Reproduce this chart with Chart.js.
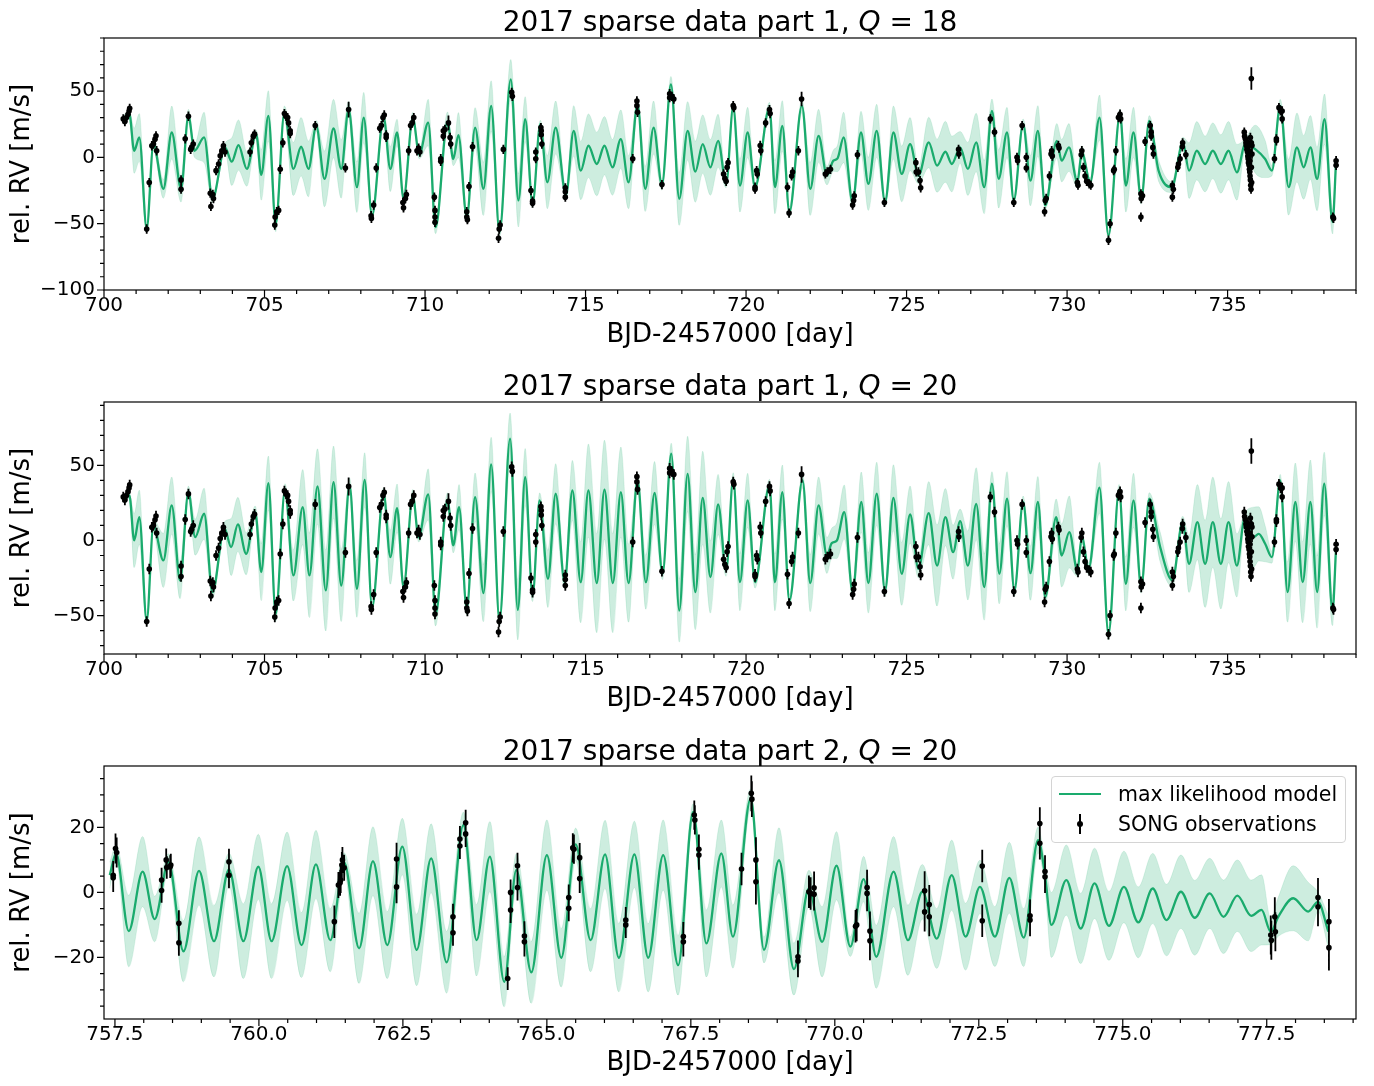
<!DOCTYPE html>
<html><head><meta charset="utf-8">
<script src="https://cdn.jsdelivr.net/npm/chart.js@4.4.1/dist/chart.umd.min.js"></script>
<style>
html,body{margin:0;padding:0;background:#fff;width:1374px;height:1086px;overflow:hidden;position:relative;}
canvas{position:absolute;left:0;}
#legend{position:absolute;left:1051px;top:776px;width:295px;height:67px;box-sizing:border-box;border:1px solid #d4d4d4;border-radius:4px;background:rgba(255,255,255,0.85);font-family:"DejaVu Sans",sans-serif;font-size:20.5px;color:#000;}
#legend .txt{position:absolute;left:66px;line-height:24px;white-space:nowrap;}
#legend .swline{position:absolute;left:7px;top:16px;width:42px;height:2.2px;background:#1aab6d;}
#legend .swbar{position:absolute;left:27px;top:37px;width:2px;height:20px;background:#000;}
#legend .swdot{position:absolute;left:25px;top:44px;width:6px;height:6px;border-radius:50%;background:#000;}
</style></head><body>
<canvas id="c1" width="1374" height="364" style="top:0px"></canvas>
<canvas id="c2" width="1374" height="364" style="top:364px"></canvas>
<canvas id="c3" width="1374" height="364" style="top:728px"></canvas>
<div id="legend">
  <span class="swline"></span><span class="txt" style="top:5px">max likelihood model</span>
  <span class="swbar"></span><span class="swdot"></span><span class="txt" style="top:35px">SONG observations</span>
</div>
<script>
// ---------------- DATA ----------------
// Tick labels
const xTicksPart1 = [700, 705, 710, 715, 720, 725, 730, 735];
const yTicksQ18 = [-100, -50, 0, 50];
const yTicksQ20 = [-50, 0, 50];
const xTicksPart2 = [757.5, 760, 762.5, 765, 767.5, 770, 772.5, 775, 777.5];
const yTicksPart2 = [-20, 0, 20];

// Panel 1 model (Q=18): x [day], y [m/s], band half-width [m/s]
const q18X = [700.60,700.79,700.94,701.10,701.33,701.54,701.85,702.11,702.40,702.63,
702.82,703.12,703.38,703.77,703.98,704.19,704.45,704.74,704.90,705.12,
705.35,705.62,705.90,706.14,706.37,706.61,706.87,707.15,707.39,707.62,
707.88,708.09,708.35,708.71,708.92,709.13,709.33,709.62,709.82,
710.10,710.33,710.70,710.88,711.04,711.30,711.56,711.82,712.06,712.32,
712.67,712.91,713.12,713.35,713.59,713.81,714.07,714.39,714.63,714.85,
715.09,715.35,715.59,715.84,716.10,716.34,716.62,716.86,717.12,717.38,
717.66,717.92,718.18,718.42,718.65,718.89,719.13,719.38,719.60,
719.81,720.05,720.28,720.73,720.90,721.13,721.35,721.74,722.00,722.26,
722.52,722.72,722.85,723.04,723.32,723.58,723.81,724.07,724.33,724.59,
724.85,725.11,725.37,725.69,725.95,726.21,726.41,726.67,726.91,727.17,
727.42,727.66,727.87,728.13,728.34,728.63,728.86,729.09,729.32,
729.68,729.83,730.06,730.32,730.46,730.72,731.01,731.29,731.65,731.83,
732.07,732.31,732.56,732.85,733.26,733.61,733.80,734.04,734.30,734.54,
734.79,735.03,735.29,735.55,735.86,736.17,736.38,736.64,736.90,737.16,
737.37,737.58,737.79,738.02,738.27,738.38];
const q18Y = [28.3,32.5,5,15,-53.75,10,-23.75,18.75,-23.75,31.25,
5,15,-31.25,7.5,-3.25,9.25,-8.75,17.5,-13.25,31.25,
-50,33.75,-8.75,8,-8.75,23.75,-16.25,21.75,-8.75,36.25,
-22.5,30,-43.75,30,-8.75,18.75,-31.25,30,2,
26.25,-52.5,26.75,-1.25,16.75,-45,22.5,-23.75,38.75,-56.25,
58.75,-32.5,28.75,-35,25,-18.75,22.5,-28.25,20,-10,
8.75,-5,8.75,-7.5,13.75,-18.75,40,-23.75,22.5,-20.75,
55,-31.25,20,-10.75,10,-7.5,12.5,-20,38,
-21.25,18.75,-22.5,37.5,-22.5,23.75,-41.25,38.75,-23.75,16.25,
-13.75,-2.5,-0.75,15,-33.75,18.75,-20,20,-33.75,18.75,
-12.5,10,-13.75,11.25,-6.25,4.25,-5,7.5,-8.75,11.25,
-22.5,35,-16.25,18.75,-32.5,25,-17.5,20,-36.25,
12.5,-2.5,7.5,-18.75,3.75,-18.75,30,-58.75,32.5,-21.25,
18.75,-31.25,27.5,-10,-22.5,11.25,-10,5,-5,5,
-5,5,-11.25,10,6.25,-1.25,-10,38.75,-22.5,7.5,
-7.5,7.5,-16.25,28.75,-48.75,-2.5];
const q18Band = [3,3,17,18,3,5,7,20,10,5,
5,19,3,3,18,19,13,3,19,19,
6,5,20,22,21,4,21,22,22,6,
19,19,3,4,17,10,3,4,3,
17.5,5,7.5,5,17,3,15,20,19,4,
15,20,17,3,3,20,20,3,19,22,
24,24,22,21,22,20,5,17,20,4,
6,20,22,23,22,21,20,3,4,
20,19,3,4,20,19,4,5,20,20,
7,8,10,19,4,16,20,20,3,20,
21,20,6,19,20,23,21,12,20,22,
20,9,22,19,3,4,19,19,3,
13,16,18,4,5,3,17,3,4,20,
19,4,4,8,4,4,21,22,21,21,
22,22,21,4,18,14,4,5,21,26,
24,24,24,19,9,3];

// Panel 2 model (Q=20)
const q20X = [700.60,700.79,700.94,701.10,701.33,701.54,701.85,702.11,702.37,702.63,
702.84,703.12,703.38,703.75,703.96,704.17,704.43,704.71,704.90,705.12,
705.35,705.64,705.90,706.19,706.40,706.65,706.91,707.15,707.39,707.65,
707.88,708.12,708.35,708.71,708.92,709.13,709.33,709.62,709.80,
710.10,710.33,710.70,710.88,711.06,711.30,711.56,711.82,712.06,712.32,
712.65,712.89,713.12,713.35,713.57,713.83,714.07,714.35,714.59,714.85,
715.09,715.35,715.59,715.85,716.10,716.34,716.62,716.88,717.15,717.40,
717.67,717.92,718.18,718.42,718.65,718.89,719.13,719.38,719.60,
719.81,720.05,720.28,720.73,720.90,721.13,721.35,721.76,722.00,722.26,
722.52,722.67,722.83,723.06,723.32,723.59,723.81,724.07,724.33,724.59,
724.85,725.11,725.37,725.69,725.95,726.21,726.45,726.67,726.91,727.17,
727.42,727.66,727.89,728.13,728.36,728.63,728.86,729.09,729.32,
729.66,729.83,730.07,730.32,730.46,730.67,731.01,731.29,731.62,731.83,
732.07,732.31,732.56,732.90,733.28,733.60,733.80,734.06,734.30,734.54,
734.79,735.03,735.29,735.53,735.81,735.97,736.17,736.38,736.64,736.87,
737.11,737.34,737.58,737.79,738.01,738.27,738.38];
const q20Y = [28.4,30,0,15.5,-53.3,10,-13.3,23.3,-26.7,32.2,
2.2,17.8,-34.4,8.4,-4.4,10.7,-8.9,18.9,-21.1,38.2,
-48.9,33.8,-23.3,22.2,-23.3,36,-33.3,38.9,-30,36.7,
-32.2,40.4,-44.4,31.1,-11.1,21.6,-31.1,30,2,
30.7,-48.9,26.7,-3.3,22.2,-45.6,28.9,-35.1,50.7,-53.3,
67.8,-46.2,42.2,-36.7,26.7,-25.6,31.1,-27.8,33.3,-27.8,
33.3,-28.4,33.8,-28.4,32.2,-28.4,40,-27.8,31.6,-22.2,
57.8,-46.7,44.4,-34.4,28.4,-24.4,24,-20,41.1,
-27.8,26.7,-27.8,36.7,-27.8,32.2,-40,40,-28.4,23.3,
-10,-1.8,0,18.9,-34.4,25.6,-28.4,31.1,-33.3,28.4,
-22.2,17.3,-18.9,18.2,-16.7,15.6,-7.8,12.9,-16.7,24.4,
-31.1,37.8,-22.2,27.8,-33.3,25.6,-21.8,25.6,-37.8,
15.6,-10,5.6,-20,2.2,-18.9,35.1,-62.2,33.3,-28.9,
26.7,-31.1,27.8,-4.4,-26.7,12.2,-15.6,12.2,-15.6,12.2,
-15.6,12.2,-16.7,14.4,2.2,4.4,-2.2,-11.1,40,-34.4,
25.6,-27.8,25.6,-34.4,37.8,-46.7,-4.4];
const q20Band = [2,2,18,18,3,4,18,19,12,4,
12,17,4,4,19,18,14,4,19,18,
5,4,17,25,28,25,27,24,24,5,
19,18,3,4,18,16,3,4,3,
17,8,5,5,15,4,16,19,18,4,
17,20,19,4,5,19,20,4,20,27,
31,33,33,33,30,26,5,18,21,4,
7,21,25,25,31,24,20,4,4,
19,18,4,4,19,18,4,5,19,19,
12,10,12,18,4,20,20,21,4,22,
21,19,6,21,27,19,18,8,23,24,
22,8,20,18,4,4,18,17,4,
12,21,24,4,4,4,17,4,4,18,
18,4,4,10,4,4,19,25,29,30,
30,27,21,4,20,18,12,4,4,20,
26,27,28,24,21,10,3];

// Panel 3 model (part 2, Q=20)
const p2X = [757.41,757.52,757.74,757.98,758.19,758.43,758.69,758.96,759.22,759.48,
759.73,759.99,760.22,760.49,760.74,760.99,761.24,761.48,761.74,761.98,
762.23,762.49,762.74,762.99,763.26,763.55,763.78,764.01,764.26,764.47,
764.73,765.00,765.25,765.50,765.76,766.01,766.25,766.52,766.76,767.02,
767.28,767.54,767.77,768.03,768.23,768.54,768.77,769.03,769.29,769.55,
769.78,770.03,770.27,770.50,770.72,771.02,771.27,771.52,771.77,772.03,
772.27,772.52,772.78,773.03,773.28,773.53,773.65,773.76,774.02,774.27,
774.51,774.76,775.02,775.27,775.52,775.76,776.01,776.25,776.51,776.75,
776.99,777.23,777.41,777.57,777.70,777.96,778.22,778.39,778.57];
const p2Y = [5.3,12,-11.9,6.4,-8.2,9.4,-18.1,6.6,-15,7.1,
-15,7.9,-15,8.1,-16.2,8.6,-14.7,9.2,-17.2,9.6,
-16.2,14.1,-17.7,10.5,-21.5,20.7,-14.7,11,-27.5,6.9,
-24.6,11.5,-20.1,14.8,-14.7,11.7,-20.1,11.7,-20.1,11.5,
-22.4,24.8,-15.7,12,-13.6,28.9,-17.7,9.9,-23.6,1.2,
-15.2,8.2,-16.7,4.1,-19.8,6.4,-14.7,0.2,-14.2,5.3,
-13.6,1.7,-13.6,4.5,-13.9,16.1,5.3,-10,3.8,-11.1,
2.8,-10.3,1.7,-9.2,1.2,-8.5,0.2,-7.8,-0.3,-7.5,
-1,-7.2,-5.4,-12.1,-7.5,-1.8,-5.9,-2.9,-12.1];
const p2Band = [4,2.5,11,10.8,7,2.5,9.4,10.5,11,5,
11.5,10,11.5,10.5,10,10.5,9.7,3,10.8,10.6,
10.3,8.7,11,10.6,9.5,4,11,10.8,7.7,5,
9.5,10.8,9,5,9.7,10.5,10.5,10.2,10.5,10.8,
9.2,2.5,10.3,10.3,9.7,3,4,10,8,5.6,
10.8,10.5,3,7,9.7,10.8,10.8,8.4,9.2,10.8,
10.3,8.2,9.2,10.9,8.9,4,4,10,10.8,10.8,
10.8,10.6,11,10.9,10.8,11,11.3,11.5,10.8,11.3,
11,11,10.8,4,6,10,9,3,5];

// SONG observations part 1: [BJD-2457000, RV, error]
const obsPart1 = [
[700.60,29,3.5],[700.65,27,3.5],[700.70,30,3.5],[700.75,32.5,3.5],[700.78,35,3.5],[700.80,37,3.5],
[701.33,-54,3.5],[701.41,-19,3.5],[701.49,8.75,3.5],[701.54,10,3.5],[701.59,13.75,3.5],[701.62,16.25,3.5],[701.64,5,3.5],
[702.40,-17,3.5],[702.40,-24,3.5],[702.53,14,3.5],[702.63,31,3.5],[702.70,6,3.5],[702.73,7.5,3.5],[702.78,10,3.5],
[703.31,-27,3.5],[703.33,-37,3.5],[703.39,-28,3.5],[703.41,-31,3.5],[703.49,-10,3.5],[703.57,-5,3.5],[703.62,1.25,3.5],[703.67,5,3.5],[703.72,8.75,3.5],[703.77,4,3.5],
[704.55,4,3.5],[704.59,11,3.5],[704.65,16,3.5],[704.69,17.5,3.5],
[705.32,-51,3.5],[705.33,-45,3.5],[705.38,-41,3.5],[705.44,-40,3.5],[705.49,-9,3.5],[705.57,11,3.5],
[705.62,33,3.5],[705.67,31,3.5],[705.72,30,3.5],[705.75,26,3.5],[705.80,20,3.5],[705.80,18,3.5],
[706.58,24,3.5],[707.52,-8,3.5],[707.62,36,6],
[708.32,-44,3.5],[708.33,-46,3.5],[708.40,-36,3.5],[708.48,-8,3.5],[708.59,22,3.5],[708.64,24,3.5],[708.69,30,3.5],[708.73,32,3.5],[708.79,17,3.5],[708.79,15,3.5],
[709.31,-34,3.5],[709.33,-38,3.5],[709.39,-31,3.5],[709.42,-28,3.5],[709.49,5,3.5],[709.55,24,3.5],[709.60,26,3.5],[709.65,30,3.5],[709.75,5,3.5],[709.80,7,3.5],[709.84,4,3.5],
[710.29,-30,3.5],[710.31,-40,3.5],[710.31,-45,3.5],[710.31,-49,3.5],[710.49,-1,3.5],[710.49,-3,3.5],[710.57,20,3.5],[710.57,16,3.5],[710.62,21,3.5],[710.73,26,5.5],[710.78,15,3.5],[710.80,10,3.5],
[711.30,-41,3.5],[711.30,-45,3.5],[711.32,-47,3.5],[711.37,-22,3.5],[711.48,8,3.5],
[712.29,-61,3.5],[712.31,-54,3.5],[712.34,-51,3.5],[712.44,6,3.5],[712.70,49,3.5],[712.72,46,3.5],
[713.30,-25,3.5],[713.35,-33,3.5],[713.35,-34.5,3.5],[713.45,4,3.5],[713.45,-1,3.5],[713.61,22.5,3.5],[713.62,20,3.5],[713.62,17,3.5],[713.64,10,3.5],
[714.37,-23,3.5],[714.37,-26,3.5],[714.37,-30,3.5],
[716.47,-1,3.5],[716.60,42.5,3.5],[716.60,39,3.5],[716.62,34,3.5],
[717.38,-20.5,3.5],[717.62,48,3.5],[717.62,45,3.5],[717.69,46,3.5],[717.75,44,3.5],
[719.30,-12.5,3.5],[719.34,-16,3.5],[719.38,-18,3.5],[719.41,-7.5,3.5],[719.44,-4,3.5],[719.60,39,3.5],[719.62,37.5,3.5],
[720.28,-22.5,3.5],[720.28,-24,3.5],[720.33,-10,3.5],[720.35,-12.5,3.5],[720.44,9,3.5],[720.46,5,3.5],[720.61,26,3.5],[720.73,36,3.5],[720.75,33,3.5],
[721.29,-22.5,3.5],[721.34,-42,3.5],[721.42,-14,3.5],[721.45,-11,3.5],[721.63,5,3.5],[721.73,44,5.5],
[722.47,-12.5,3.5],[722.53,-11,3.5],[722.63,-9,3.5],
[723.32,-36,3.5],[723.35,-32.5,3.5],[723.37,-29,3.5],[723.47,2,3.5],[724.31,-34,3.5],
[725.29,-4,3.5],[725.30,-11,3.5],[725.37,-11,3.5],[725.42,-17.5,3.5],[725.44,-23,3.5],
[726.62,6,3.5],[726.63,2.5,3.5],[727.61,29,3.5],[727.74,19,3.5],
[728.34,-34,3.5],[728.44,0,3.5],[728.46,-2.5,3.5],[728.60,24,3.5],[728.73,0,3.5],[728.73,-8,3.5],
[729.30,-41,3.5],[729.32,-32.5,3.5],[729.35,-31,3.5],[729.45,-14,3.5],[729.50,2.5,3.5],[729.52,5,3.5],[729.54,1,3.5],[729.73,9,3.5],[729.75,7,3.5],
[730.32,-19,3.5],[730.34,-21,3.5],[730.44,2,3.5],[730.46,5,3.5],[730.51,-7.5,3.5],[730.56,-14,3.5],[730.61,-18,3.5],[730.69,-20,3.5],[730.74,-21,3.5],
[731.29,-62.5,3.5],[731.34,-50,3.5],[731.45,-10,3.5],[731.47,-9,3.5],[731.52,5,3.5],[731.60,30,3.5],[731.63,31,3.5],[731.65,32.5,3.5],[731.67,29,3.5],
[732.30,-27.5,3.5],[732.30,-45,3.5],[732.31,-31,3.5],[732.35,-29,3.5],[732.43,12,3.5],[732.59,24,3.5],[732.62,19,3.5],[732.62,16,3.5],[732.67,7.5,3.5],[732.69,2.5,3.5],
[733.28,-21,3.5],[733.28,-30,3.5],[733.31,-24,3.5],[733.45,-7.5,3.5],[733.47,-5,3.5],[733.52,-1,3.5],[733.59,8,3.5],[733.60,11,3.5],[733.70,2,3.5],
[735.52,19,3.5],[735.53,16,3.5],[735.55,14,3.5],[735.57,11,3.5],[735.58,9,3.5],[735.60,6,3.5],[735.62,4,3.5],[735.63,1,3.5],[735.64,-1,3.5],[735.65,-4,3.5],
[735.67,-6,3.5],[735.68,-9,3.5],[735.69,-11,3.5],[735.70,-14,3.5],[735.71,-17,3.5],[735.72,-21,3.5],[735.73,-24,3.5],[735.71,15,3.5],[735.74,11,3.5],[735.76,9,3.5],
[735.65,10,3.5],[735.60,12,3.5],[735.68,5,3.5],[735.70,-2.5,3.5],[735.74,-7.5,3.5],[735.76,2.5,3.5],[735.75,-19,3.5],
[735.74,59.5,8.5],
[736.46,-1,3.5],[736.52,12.5,3.5],[736.52,14,3.5],[736.60,37.5,3.5],[736.65,35,3.5],[736.70,35,3.5],[736.70,29,3.5],
[738.28,-45,3.5],[738.30,-46,3.5],[738.38,-2.5,3.5],[738.38,-6,3.5]
];

// SONG observations part 2
const obsPart2 = [
[757.47,5.3,4.4],[757.47,4.5,4.4],[757.51,13.5,4.6],[757.53,12.3,4.6],
[758.31,3.8,3.8],[758.31,0.6,3.8],[758.39,10,3.5],[758.40,7.7,3.5],[758.46,7.9,3.5],[758.47,8.4,3.5],
[758.61,-9.5,4],[758.61,-15.5,4],[759.48,9.4,4],[759.48,5.3,4],
[761.31,-9,5],[761.38,2.3,4],[761.41,3,4],[761.42,3.8,4],[761.44,8.4,4],[761.45,10,4],[761.48,7.6,4],
[762.39,10.3,5],[762.39,1.7,5],
[763.37,-7.5,4],[763.37,-12.4,4],[763.49,16.4,4],[763.49,14.3,4],[763.59,21.4,4],[763.59,18,4],
[764.32,-26.5,3.5],[764.37,0,4],[764.37,-5.4,4],[764.49,8.2,4],[764.49,1.5,4],[764.61,-13.4,4.5],[764.61,-15.2,4.5],
[765.38,-1.6,4],[765.38,-4.9,4],[765.45,13.7,4.5],[765.47,13.3,4.5],[765.57,10.7,4.5],[765.57,4.3,4.5],
[766.37,-8.5,4],[766.37,-10,4],
[767.37,-13.6,4.5],[767.37,-15.2,4.5],[767.56,23.8,4.5],[767.57,22.3,4.5],[767.64,13.3,4.5],[767.64,11.5,4.5],
[768.38,7.2,5],[768.55,30.5,5.5],[768.56,28.7,5.5],[768.63,10,7],[768.63,3.3,7],
[769.36,-19.8,5],[769.36,-21.1,5],[769.55,0.2,5],[769.58,-0.3,5],[769.64,1.4,5],[769.64,-0.6,5],
[770.36,-10.4,5],[770.38,-10,5],[770.56,1.5,5.5],[770.56,-0.3,5.5],[770.61,-11.9,6],[770.61,-14.9,6],
[771.56,0.5,6],[771.56,-6,6],[771.64,-3.7,6],[771.64,-7.5,6],
[772.56,8.1,5],[772.56,-8.7,5],
[773.39,-7.2,5],[773.39,-8.5,5],[773.56,21.2,5],[773.56,15.1,5],[773.65,6.4,5],[773.65,4.8,5],
[777.57,-13.1,6],[777.58,-14.7,6],[777.64,-7.5,6],[777.65,-12.1,6],
[778.39,-1.6,6],[778.39,-4.4,6],[778.58,-9,7],[778.58,-17,7]
];

// ---------------- RENDERING ----------------
Chart.defaults.font.family = '"DejaVu Sans", sans-serif';
Chart.defaults.color = '#000';
const GREEN = '#1aab6d';
const BAND = 'rgba(26,171,109,0.22)';
const FONT = '"DejaVu Sans", sans-serif';

function fmtNum(v, dec) {
  const s = Math.abs(v).toFixed(dec);
  return v < 0 ? '\u2212' + s : s;
}

const titlePlugin = {
  id: 'mplTitle',
  afterDraw(chart, args, o) {
    if (!o || !o.parts) return;
    const ctx = chart.ctx, a = chart.chartArea;
    ctx.save();
    ctx.fillStyle = '#000';
    ctx.textBaseline = 'alphabetic';
    ctx.textAlign = 'left';
    let w = 0;
    const ps = o.parts.map(p => {
      ctx.font = (p.italic ? 'italic ' : '') + o.size + 'px ' + FONT;
      const m = ctx.measureText(p.t).width;
      w += m;
      return {t: p.t, italic: p.italic, w: m};
    });
    let x = (a.left + a.right) / 2 - w / 2;
    ps.forEach(p => {
      ctx.font = (p.italic ? 'italic ' : '') + o.size + 'px ' + FONT;
      ctx.fillText(p.t, x, o.y);
      x += p.w;
    });
    ctx.restore();
  }
};

const axesPlugin = {
  id: 'mplAxes',
  afterDraw(chart, args, o) {
    if (!o || !o.xMinor) return;
    const ctx = chart.ctx, a = chart.chartArea;
    const xs = chart.scales.x, ys = chart.scales.y;
    ctx.save();
    ctx.strokeStyle = '#000';
    ctx.lineWidth = 1.2;
    ctx.beginPath();
    const isMajor = (list, v) => list.some(m => Math.abs(m - v) < 1e-6);
    for (let k = Math.ceil(xs.min / o.xMinor - 1e-9); k * o.xMinor <= xs.max + 1e-9; k++) {
      const v = k * o.xMinor;
      const p = xs.getPixelForValue(v);
      const len = isMajor(o.xMajor, v) ? 7 : 4;
      ctx.moveTo(p, a.bottom); ctx.lineTo(p, a.bottom + len);
    }
    for (let k = Math.ceil(ys.min / o.yMinor - 1e-9); k * o.yMinor <= ys.max + 1e-9; k++) {
      const v = k * o.yMinor;
      const p = ys.getPixelForValue(v);
      const len = isMajor(o.yMajor, v) ? 7 : 4;
      ctx.moveTo(a.left, p); ctx.lineTo(a.left - len, p);
    }
    ctx.stroke();
    ctx.strokeRect(a.left, a.top, a.right - a.left, a.bottom - a.top);
    ctx.restore();
  }
};

function makePanel(id, cfg) {
  const model = cfg.mx.map((x, i) => ({x, y: cfg.my[i]}));
  const upper = cfg.mx.map((x, i) => ({x, y: cfg.my[i] + cfg.ms[i]}));
  const lower = cfg.mx.map((x, i) => ({x, y: cfg.my[i] - cfg.ms[i]}));
  const bars = [];
  cfg.obs.forEach(([x, y, e]) => { bars.push({x, y: y - e}, {x, y: y + e}, {x, y: null}); });
  const pts = cfg.obs.map(([x, y]) => ({x, y}));
  return new Chart(document.getElementById(id), {
    type: 'line',
    data: {datasets: [
      {data: upper, fill: '+1', backgroundColor: BAND, borderColor: 'rgba(26,171,109,0.12)', borderWidth: 1, pointRadius: 0, cubicInterpolationMode: 'monotone', order: 4},
      {data: lower, fill: false, borderColor: 'rgba(26,171,109,0.12)', borderWidth: 1, pointRadius: 0, cubicInterpolationMode: 'monotone', order: 5},
      {data: model, fill: false, borderColor: GREEN, borderWidth: 2.3, pointRadius: 0, cubicInterpolationMode: 'monotone', order: 3},
      {data: bars, fill: false, borderColor: '#000', borderWidth: 1.8, pointRadius: 0, spanGaps: false, tension: 0, order: 2},
      {data: pts, showLine: false, pointRadius: 2.8, pointBackgroundColor: '#000', pointBorderWidth: 0, order: 1}
    ]},
    options: {
      responsive: false, animation: false, devicePixelRatio: 1, events: [],
      layout: {padding: {left: 0, right: 18, top: 38, bottom: 0}},
      plugins: {
        legend: {display: false}, tooltip: {enabled: false},
        mplTitle: {parts: cfg.title, size: 28, y: cfg.titleY},
        mplAxes: {xMinor: cfg.xMinor, yMinor: cfg.yMinor, xMajor: cfg.xt, yMajor: cfg.yt}
      },
      scales: {
        x: {
          type: 'linear', position: 'bottom', min: cfg.xmin, max: cfg.xmax,
          afterBuildTicks: s => { s.ticks = cfg.xt.map(v => ({value: v})); },
          afterFit: s => { s.height = 364 - cfg.bottom; },
          grid: {display: false, drawTicks: false}, border: {display: false},
          ticks: {autoSkip: false, maxRotation: 0, minRotation: 0, padding: 4, font: {size: 20}, color: '#000', callback: v => fmtNum(v, cfg.xdec)},
          title: {display: true, text: 'BJD-2457000 [day]', font: {size: 26}, color: '#000', padding: {top: 0, bottom: 13}}
        },
        y: {
          type: 'linear', position: 'left', min: cfg.ymin, max: cfg.ymax,
          afterBuildTicks: s => { s.ticks = cfg.yt.map(v => ({value: v})); },
          afterFit: s => { s.width = 104; },
          grid: {display: false, drawTicks: false}, border: {display: false},
          ticks: {autoSkip: false, padding: 9, font: {size: 20}, color: '#000', callback: v => fmtNum(v, 0)},
          title: {display: true, text: 'rel. RV [m/s]', font: {size: 26}, color: '#000', padding: {top: 7, bottom: 0}}
        }
      }
    },
    plugins: [titlePlugin, axesPlugin]
  });
}

makePanel('c1', {
  mx: q18X, my: q18Y, ms: q18Band, obs: obsPart1,
  xmin: 700, xmax: 739, ymin: -100, ymax: 90, xt: xTicksPart1, yt: yTicksQ18, xdec: 0,
  xMinor: 1, yMinor: 10, bottom: 290, titleY: 31,
  title: [{t: '2017 sparse data part 1, '}, {t: 'Q', italic: true}, {t: ' = 18'}]
});
makePanel('c2', {
  mx: q20X, my: q20Y, ms: q20Band, obs: obsPart1,
  xmin: 700, xmax: 739, ymin: -75.6, ymax: 92.2, xt: xTicksPart1, yt: yTicksQ20, xdec: 0,
  xMinor: 1, yMinor: 10, bottom: 290, titleY: 31,
  title: [{t: '2017 sparse data part 1, '}, {t: 'Q', italic: true}, {t: ' = 20'}]
});
makePanel('c3', {
  mx: p2X, my: p2Y, ms: p2Band, obs: obsPart2,
  xmin: 757.31, xmax: 779.05, ymin: -38.95, ymax: 38.9, xt: xTicksPart2, yt: yTicksPart2, xdec: 1,
  xMinor: 0.5, yMinor: 5, bottom: 291, titleY: 32,
  title: [{t: '2017 sparse data part 2, '}, {t: 'Q', italic: true}, {t: ' = 20'}]
});
</script>
</body></html>
